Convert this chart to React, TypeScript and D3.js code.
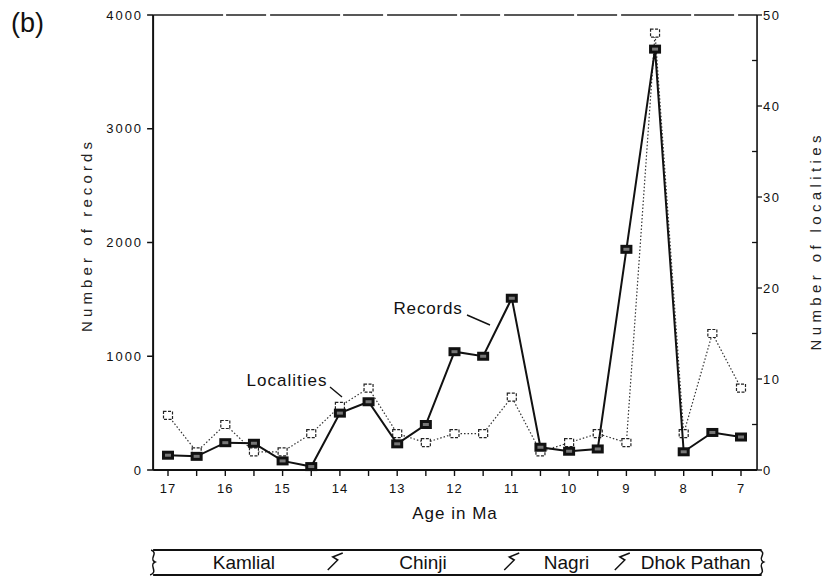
import React from "react";
import * as d3 from "d3";

const ages = [17, 16.5, 16, 15.5, 15, 14.5, 14, 13.5, 13, 12.5, 12, 11.5, 11, 10.5, 10, 9.5, 9, 8.5, 8, 7.5, 7];
const records = [130, 120, 240, 235, 80, 30, 500, 600, 230, 400, 1040, 1000, 1510, 200, 165, 185, 1940, 3700, 160, 330, 290];
const localities = [6, 2, 5, 2, 2, 4, 7, 9, 4, 3, 4, 4, 8, 2, 3, 4, 3, 48, 4, 15, 9];
const xTicks = [17, 16, 15, 14, 13, 12, 11, 10, 9, 8, 7];
const leftTicks = [0, 1000, 2000, 3000, 4000];
const rightTicks = [0, 10, 20, 30, 40, 50];
const formationNames = ["Kamlial", "Chinji", "Nagri", "Dhok Pathan"];
const formationBounds = [17.26, 14.09, 11.01, 9.08, 6.64];

const W = 829;
const H = 581;
const FONT = "'Liberation Sans', Arial, sans-serif";

export default function App() {
  const x = d3.scaleLinear().domain([17, 7]).range([168, 741]);
  const yL = d3.scaleLinear().domain([0, 4000]).range([470, 15]);
  const yR = d3.scaleLinear().domain([0, 50]).range([470, 15]);
  const x0 = x(17.26);
  const x1 = x(6.72);
  const y0 = yL(0);
  const yTop = yL(4000);

  const lineRec = d3.line<number>().x((_, i) => x(ages[i])).y((d) => yL(d));
  const lineLoc = d3.line<number>().x((_, i) => x(ages[i])).y((d) => yR(d));

  const halfTicks = d3.range(17, 6.9, -0.5);
  const rightMinor = d3.range(5, 50, 10);

  const barTop = 550;
  const barBot = 575;

  const zig = (cx: number) =>
    `M ${cx + 8} ${barTop + 3} L ${cx - 2} ${barTop + 7} L ${cx + 3} ${barTop + 10} L ${cx - 7} ${barTop + 20}`;
  const brace = (cx: number) =>
    `M ${cx - 2} ${barTop} C ${cx + 6} ${barTop + 3}, ${cx - 5} ${barTop + 9}, ${cx + 2} ${barTop + 12} C ${cx - 5} ${barTop + 15}, ${cx + 6} ${barTop + 22}, ${cx - 3} ${barTop + 25}`;

  return (
    <svg width={W} height={H} style={{ position: "absolute", left: 0, top: 0, background: "#fff" }} fontFamily={FONT}>
      <text x={11} y={32} fontSize={27} fill="#111">(b)</text>

      {/* frame */}
      <line x1={x0} x2={x1} y1={yTop} y2={yTop} stroke="#222" strokeWidth={1.4} strokeDasharray="70 3 40 4" />
      <line x1={x0} x2={x0} y1={yTop} y2={y0} stroke="#111" strokeWidth={2} />
      <line x1={x1} x2={x1} y1={yTop} y2={y0} stroke="#111" strokeWidth={1.6} />
      <line x1={x0} x2={x1} y1={y0} y2={y0} stroke="#111" strokeWidth={1.8} />

      {/* left ticks */}
      {leftTicks.map((t) => (
        <g key={"l" + t}>
          <line x1={x0 - 6} x2={x0} y1={yL(t)} y2={yL(t)} stroke="#111" strokeWidth={1.5} />
          <text x={x0 - 10} y={yL(t)} dy="0.35em" textAnchor="end" fontSize={13} letterSpacing={2} fill="#111">
            {t}
          </text>
        </g>
      ))}
      {/* right ticks */}
      {rightTicks.map((t) => (
        <g key={"r" + t}>
          <line x1={x1} x2={x1 + 5} y1={yR(t)} y2={yR(t)} stroke="#111" strokeWidth={1.3} />
          <text x={x1 + 6} y={yR(t)} dy="0.35em" textAnchor="start" fontSize={13} letterSpacing={1.5} fill="#111">
            {t}
          </text>
        </g>
      ))}
      {rightMinor.map((t) => (
        <line key={"rm" + t} x1={x1 - 5} x2={x1} y1={yR(t)} y2={yR(t)} stroke="#111" strokeWidth={1.3} />
      ))}
      {/* x ticks */}
      {halfTicks.map((t) => (
        <line key={"x" + t} x1={x(t)} x2={x(t)} y1={y0} y2={y0 + 6} stroke="#111" strokeWidth={1.4} />
      ))}
      {xTicks.map((t) => (
        <text key={"xt" + t} x={x(t)} y={488} dy="0.35em" textAnchor="middle" fontSize={13} letterSpacing={1} fill="#111">
          {t}
        </text>
      ))}

      {/* titles */}
      <text x={455} y={513} dy="0.35em" textAnchor="middle" fontSize={17} letterSpacing={1} fill="#111">
        Age in Ma
      </text>
      <text
        transform={`translate(92,237) rotate(-90)`}
        textAnchor="middle"
        fontSize={15}
        textLength={190}
        lengthAdjust="spacing"
        fill="#222"
      >
        Number of records
      </text>
      <text
        transform={`translate(821,243) rotate(-90)`}
        textAnchor="middle"
        fontSize={15}
        textLength={215}
        lengthAdjust="spacing"
        fill="#222"
      >
        Number of localities
      </text>

      {/* localities */}
      <path d={lineLoc(localities) || ""} fill="none" stroke="#333" strokeWidth={1.2} strokeDasharray="1.5 2" />
      {localities.map((v, i) => (
        <rect
          key={"lm" + i}
          x={x(ages[i]) - 4.5}
          y={yR(v) - 4}
          width={9}
          height={8}
          fill="#fff"
          stroke="#222"
          strokeWidth={1.2}
          strokeDasharray="3 1.5"
        />
      ))}

      {/* records */}
      <path d={lineRec(records) || ""} fill="none" stroke="#111" strokeWidth={2} />
      {records.map((v, i) => (
        <g key={"rm" + i}>
          <rect x={x(ages[i]) - 6} y={yL(v) - 4.5} width={12} height={9} fill="#111" />
          <rect x={x(ages[i]) - 3} y={yL(v) - 1.5} width={6} height={3} fill="#777" />
        </g>
      ))}

      {/* annotations */}
      <text x={428} y={308} dy="0.35em" textAnchor="middle" fontSize={17} letterSpacing={0.8} fill="#111">
        Records
      </text>
      <line x1={467} y1={315} x2={490} y2={325} stroke="#111" strokeWidth={1.4} />
      <text x={287} y={380} dy="0.35em" textAnchor="middle" fontSize={17} letterSpacing={1} fill="#111">
        Localities
      </text>
      <line x1={330} y1={387} x2={342} y2={397} stroke="#111" strokeWidth={1.4} />

      {/* formation bar */}
      <line x1={x(formationBounds[0])} x2={x(formationBounds[4])} y1={barTop} y2={barTop} stroke="#111" strokeWidth={1.8} />
      <line x1={x(formationBounds[0])} x2={x(formationBounds[4])} y1={barBot} y2={barBot} stroke="#111" strokeWidth={1.8} />
      <path d={brace(x(formationBounds[0]))} fill="none" stroke="#111" strokeWidth={1.5} />
      <path d={brace(x(formationBounds[4]))} fill="none" stroke="#111" strokeWidth={1.5} />
      {formationBounds.slice(1, 4).map((b, i) => (
        <path key={"z" + i} d={zig(x(b))} fill="none" stroke="#111" strokeWidth={1.5} />
      ))}
      {formationNames.map((n, i) => (
        <text
          key={n}
          x={(x(formationBounds[i]) + x(formationBounds[i + 1])) / 2 + (i === 3 ? 4 : 0)}
          y={(barTop + barBot) / 2}
          dy="0.36em"
          textAnchor="middle"
          fontSize={19}
          fill="#111"
        >
          {n}
        </text>
      ))}
    </svg>
  );
}
